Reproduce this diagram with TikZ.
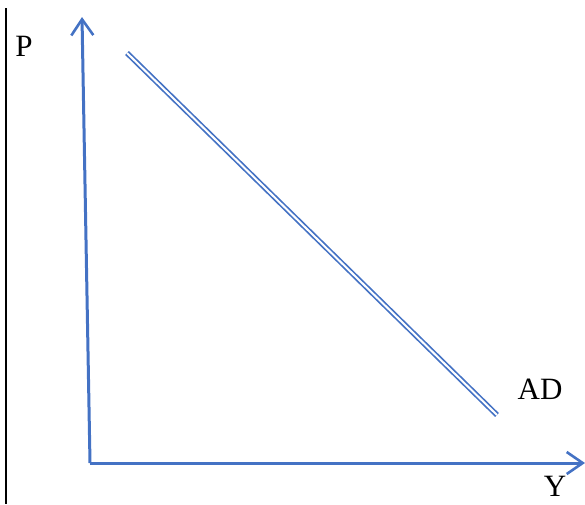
\documentclass[tikz,border=0pt]{standalone}
\usepackage{fontspec}
\setmainfont{Liberation Serif}
\usetikzlibrary{arrows.meta}
\definecolor{axblue}{RGB}{68,114,196}
\begin{document}
\begin{tikzpicture}[x=1pt,y=-1pt,
  axis/.style={draw=axblue,line width=3pt,-{Straight Barb[length=16pt,width=22pt,line width=2.6pt]}},
  curve/.style={draw=axblue,double=white,line width=1.7pt,double distance=2pt},
  lbl/.style={font=\fontsize{31}{31}\selectfont,inner sep=0pt}]
\useasboundingbox (0,0) rectangle (585,504);
\draw[line width=2pt,black] (6,8) -- (6,504);
\coordinate (o) at (90,463);
\coordinate (ytop) at (82,17);
\coordinate (xend) at (585,463);
\draw[axis] (o) -- (ytop);
\draw[axis] (o) -- (xend);
\coordinate (ads) at (127,53);
\coordinate (ade) at (497,415);
\draw[curve] (ads) -- (ade);
\node[lbl,anchor=base] (P) at (24,56) {P};
\node[lbl,anchor=base] (AD) at (540,399) {AD};
\node[lbl,anchor=base] (Y) at (555,496) {Y};
\end{tikzpicture}
\end{document}
